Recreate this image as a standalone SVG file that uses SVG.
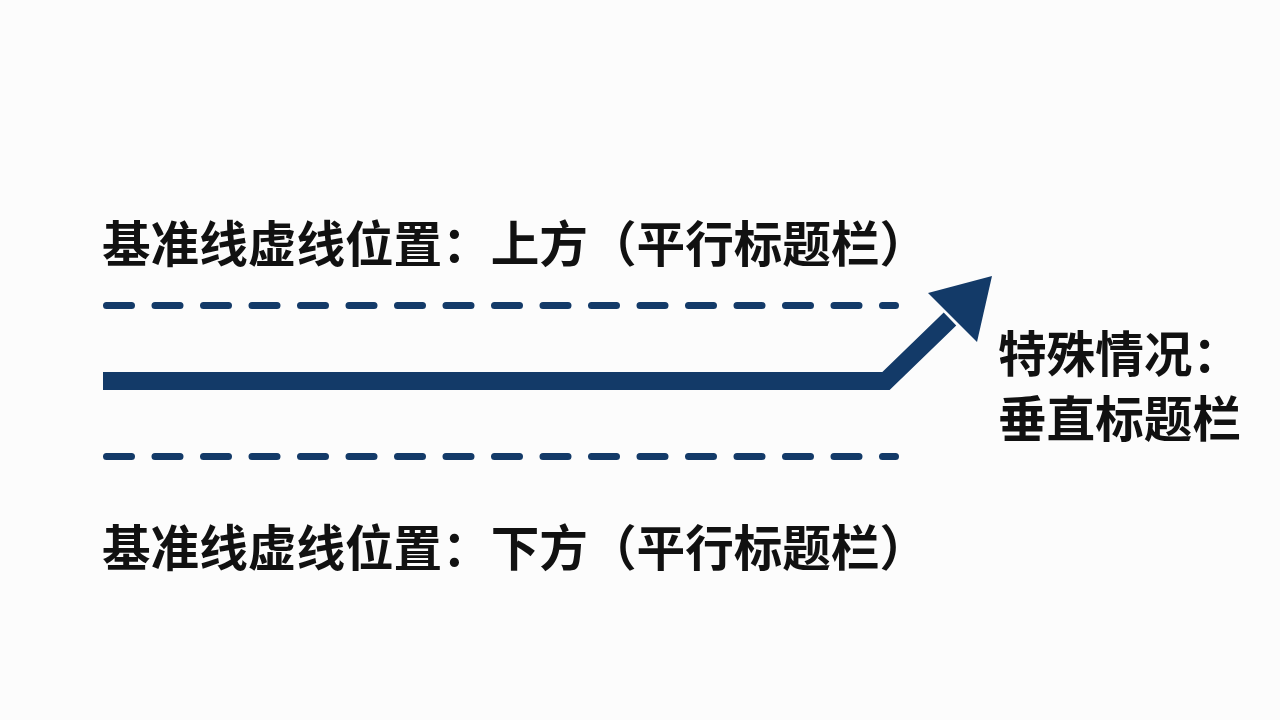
<svg xmlns="http://www.w3.org/2000/svg" width="1280" height="720" viewBox="0 0 1280 720">
<style>
.lbl{font-family:"Noto Sans CJK SC","Noto Sans",sans-serif;font-weight:bold;font-size:48.6px;fill:#111}
.dash{stroke:#133a68;stroke-width:7;stroke-linecap:round;stroke-dasharray:25 23.5;fill:none}
.main{stroke:#133a68;stroke-width:18;fill:none;stroke-linejoin:miter}
</style>
<rect width="1280" height="720" fill="#fcfcfc"/>
<g id="label-top"><text class="lbl" x="102" y="262">基准线虚线位置：上方（平行标题栏）</text></g>
<g id="label-bottom"><text class="lbl" x="102" y="566">基准线虚线位置：下方（平行标题栏）</text></g>
<g id="label-special"><text class="lbl" x="998" y="372">特殊情况：</text><text class="lbl" x="998" y="437">垂直标题栏</text></g>
<g id="connectors">
<line class="dash" x1="106.5" y1="305.5" x2="895.5" y2="305.5"/>
<line class="dash" x1="106.5" y1="456.5" x2="895.5" y2="456.5"/>
<polyline class="main" points="103,381 886,381 950,319"/>
<polygon points="928,293 992,276 977,342" fill="#133a68"/>
</g>
</svg>
